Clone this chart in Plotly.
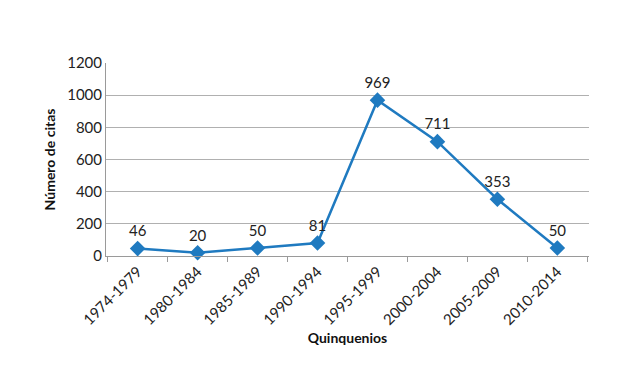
import plotly.graph_objects as go

categories = ["1974-1979", "1980-1984", "1985-1989", "1990-1994",
              "1995-1999", "2000-2004", "2005-2009", "2010-2014"]
citas = [46, 20, 50, 81, 969, 711, 353, 50]
y_ticks = [0, 200, 400, 600, 800, 1000, 1200]

blue = "#1F7AC0"
font = "Lato, Calibri, Liberation Sans, sans-serif"

fig = go.Figure(go.Scatter(
    x=categories, y=citas, mode="lines+markers+text",
    line=dict(color=blue, width=2.5),
    marker=dict(symbol="diamond", size=12, color=blue),
    text=[str(v) for v in citas], textposition="top center",
    textfont=dict(family=font, size=15, color="#222222"),
    cliponaxis=False, showlegend=False,
))

fig.update_layout(
    width=644, height=388,
    margin=dict(l=98, r=63, t=55, b=140),
    paper_bgcolor="white", plot_bgcolor="white",
    font=dict(family=font, size=14, color="#222222"),
)
fig.update_xaxes(
    type="category", tickangle=-45, tickson="boundaries",
    ticks="outside", ticklen=5, tickcolor="#9a9a9a",
    showline=True, linecolor="#9a9a9a", linewidth=1, showgrid=False,
    tickfont=dict(family=font, size=15, color="#222222"),
    title=dict(text="<b>Quinquenios</b>", font=dict(family=font, size=14, color="#111111"), standoff=6),
)
fig.update_yaxes(
    range=[0, 1200], tickvals=y_ticks, showgrid=True, gridcolor="#b0b0b0", gridwidth=1,
    showline=True, linecolor="#9a9a9a", linewidth=1, ticks="", zeroline=False,
    tickfont=dict(family=font, size=15, color="#222222"),
    title=dict(text="<b>Número de citas</b>", font=dict(family=font, size=14, color="#111111"), standoff=8),
)

fig.write_html("out.html")
